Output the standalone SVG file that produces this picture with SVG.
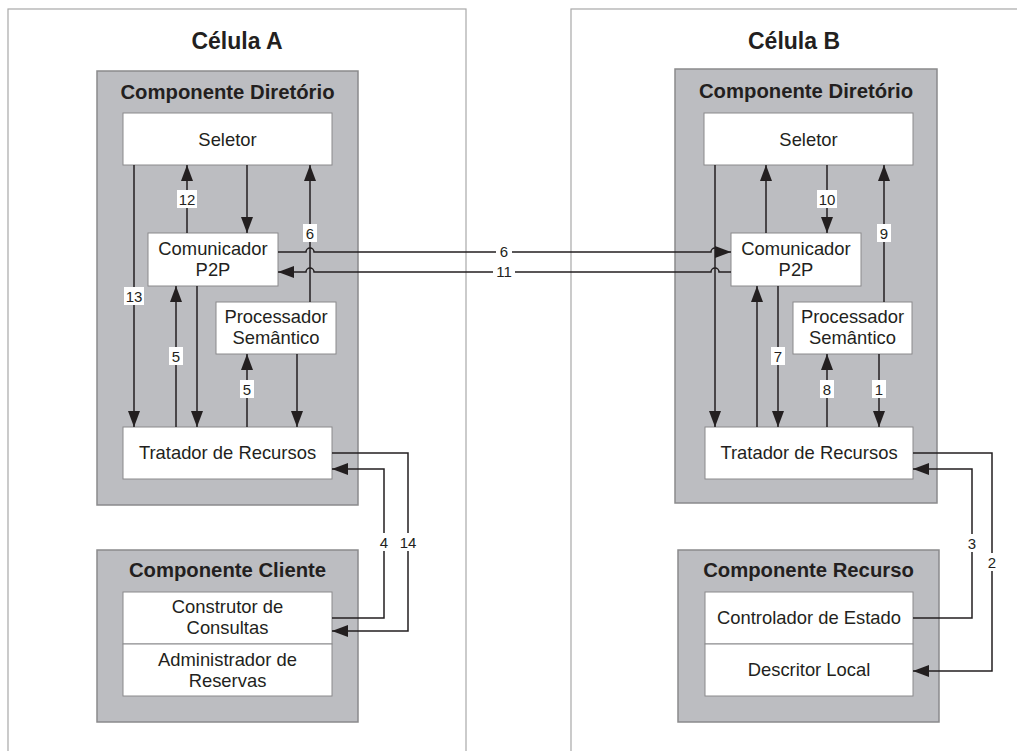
<svg xmlns="http://www.w3.org/2000/svg" width="1017" height="751" viewBox="0 0 1017 751">
<style>
.cell{fill:#fff;stroke:#a8a8a8;stroke-width:1.2}
.comp{fill:#bcbdc1;stroke:#8a8a8c;stroke-width:1.5}
.node{fill:#fff;stroke:#8a8a8c;stroke-width:1}
.ctitle{font-family:"Liberation Sans",Arial,sans-serif;font-weight:bold;font-size:23px;fill:#231f20;text-anchor:middle}
.ptitle{font-family:"Liberation Sans",Arial,sans-serif;font-weight:bold;font-size:20.3px;fill:#231f20;text-anchor:middle}
.t{font-family:"Liberation Sans",Arial,sans-serif;font-size:18.4px;fill:#231f20;text-anchor:middle}
.lbl{font-family:"Liberation Sans",Arial,sans-serif;font-size:15px;fill:#231f20;text-anchor:middle}
.lb{fill:#fff}
.c{fill:none;stroke:#231f20;stroke-width:1.5}
</style>
<defs>
<marker id="ah" viewBox="0 0 16 12" refX="16" refY="6" markerWidth="16" markerHeight="12" markerUnits="userSpaceOnUse" orient="auto">
<path d="M0,0 L16,6 L0,12 z" fill="#231f20"/>
</marker>
</defs>
<rect width="1017" height="751" fill="#fff"/>
<g id="celula-a">
<rect class="cell" x="8" y="9" width="458" height="750"/>
<text class="ctitle" x="237" y="49">Célula A</text>
</g>
<g id="celula-b">
<rect class="cell" x="571" y="9" width="460" height="750"/>
<text class="ctitle" x="794" y="49">Célula B</text>
</g>
<g id="dir-a">
<rect class="comp" x="97" y="71" width="261" height="434"/>
<text class="ptitle" x="227.5" y="99">Componente Diretório</text>
</g>
<g id="dir-b">
<rect class="comp" x="675" y="69" width="262" height="434"/>
<text class="ptitle" x="806" y="98">Componente Diretório</text>
</g>
<g id="cliente-a">
<rect class="comp" x="97" y="550" width="261" height="172"/>
<text class="ptitle" x="227.5" y="577">Componente Cliente</text>
</g>
<g id="recurso-b">
<rect class="comp" x="678" y="550" width="261" height="172"/>
<text class="ptitle" x="808.5" y="577">Componente Recurso</text>
</g>
<g id="seletor-a"><rect class="node" x="123" y="113" width="209" height="52"/><text class="t" x="227.5" y="146">Seletor</text></g>
<g id="comunicador-a"><rect class="node" x="148" y="233" width="130" height="53"/><text class="t" x="213" y="255">Comunicador</text><text class="t" x="213" y="276">P2P</text></g>
<g id="processador-a"><rect class="node" x="216" y="302" width="120" height="52"/><text class="t" x="276" y="323">Processador</text><text class="t" x="276" y="344">Semântico</text></g>
<g id="tratador-a"><rect class="node" x="123" y="427" width="209" height="52"/><text class="t" x="227.5" y="459">Tratador de Recursos</text></g>
<g id="construtor-a"><rect class="node" x="123" y="592" width="209" height="52"/><text class="t" x="227.5" y="613">Construtor de</text><text class="t" x="227.5" y="634">Consultas</text></g>
<g id="administrador-a"><rect class="node" x="123" y="644" width="209" height="52"/><text class="t" x="227.5" y="666">Administrador de</text><text class="t" x="227.5" y="687">Reservas</text></g>
<g id="seletor-b"><rect class="node" x="704" y="113" width="209" height="52"/><text class="t" x="808.5" y="146">Seletor</text></g>
<g id="comunicador-b"><rect class="node" x="731" y="233" width="130" height="53"/><text class="t" x="796" y="255">Comunicador</text><text class="t" x="796" y="276">P2P</text></g>
<g id="processador-b"><rect class="node" x="793" y="302" width="119" height="52"/><text class="t" x="852.5" y="323">Processador</text><text class="t" x="852.5" y="344">Semântico</text></g>
<g id="tratador-b"><rect class="node" x="705" y="427" width="208" height="52"/><text class="t" x="809" y="459">Tratador de Recursos</text></g>
<g id="controlador-b"><rect class="node" x="705" y="592" width="208" height="52"/><text class="t" x="809" y="624">Controlador de Estado</text></g>
<g id="descritor-b"><rect class="node" x="705" y="644" width="208" height="52"/><text class="t" x="809" y="676">Descritor Local</text></g>
<g id="connectors">
<path class="c" d="M134,165 V427" marker-end="url(#ah)"/>
<path class="c" d="M187,233 V165" marker-end="url(#ah)"/>
<path class="c" d="M247,165 V233" marker-end="url(#ah)"/>
<path class="c" d="M310,302 V165" marker-end="url(#ah)"/>
<path class="c" d="M176,427 V286" marker-end="url(#ah)"/>
<path class="c" d="M197,286 V427" marker-end="url(#ah)"/>
<path class="c" d="M247,427 V354" marker-end="url(#ah)"/>
<path class="c" d="M297,354 V427" marker-end="url(#ah)"/>
<path class="c" d="M332,453 H408 V631 H332" marker-end="url(#ah)"/>
<path class="c" d="M332,618 H384 V469 H332" marker-end="url(#ah)"/>
<path class="c" d="M278,252 H306 a4,4 0 0 1 8,0 H711 a4,4 0 0 1 8,0 H731" marker-end="url(#ah)"/>
<path class="c" d="M731,272 H719 a4,4 0 0 0 -8,0 H314 a4,4 0 0 0 -8,0 H278" marker-end="url(#ah)"/>
<path class="c" d="M715,165 V427" marker-end="url(#ah)"/>
<path class="c" d="M766,233 V165" marker-end="url(#ah)"/>
<path class="c" d="M827,165 V233" marker-end="url(#ah)"/>
<path class="c" d="M884,302 V165" marker-end="url(#ah)"/>
<path class="c" d="M757,427 V286" marker-end="url(#ah)"/>
<path class="c" d="M778,286 V427" marker-end="url(#ah)"/>
<path class="c" d="M827,427 V354" marker-end="url(#ah)"/>
<path class="c" d="M879,354 V427" marker-end="url(#ah)"/>
<path class="c" d="M913,453 H992 V671 H913" marker-end="url(#ah)"/>
<path class="c" d="M913,618 H972 V469 H913" marker-end="url(#ah)"/>
<rect class="lb" x="177" y="190" width="20" height="18"/><text class="lbl" x="187" y="205">12</text>
<rect class="lb" x="303" y="224" width="14" height="18"/><text class="lbl" x="310" y="239">6</text>
<rect class="lb" x="124" y="287" width="20" height="18"/><text class="lbl" x="134" y="302">13</text>
<rect class="lb" x="169" y="347" width="14" height="18"/><text class="lbl" x="176" y="362">5</text>
<rect class="lb" x="240" y="380" width="14" height="18"/><text class="lbl" x="247" y="395">5</text>
<rect class="lb" x="377" y="533" width="14" height="18"/><text class="lbl" x="384" y="548">4</text>
<rect class="lb" x="398" y="533" width="20" height="18"/><text class="lbl" x="408" y="548">14</text>
<rect class="lb" x="496" y="244" width="16" height="16"/><text class="lbl" x="504" y="257">6</text>
<rect class="lb" x="493" y="264" width="22" height="16"/><text class="lbl" x="504" y="277">11</text>
<rect class="lb" x="817" y="190" width="20" height="18"/><text class="lbl" x="827" y="205">10</text>
<rect class="lb" x="877" y="224" width="14" height="18"/><text class="lbl" x="884" y="239">9</text>
<rect class="lb" x="771" y="347" width="14" height="18"/><text class="lbl" x="778" y="362">7</text>
<rect class="lb" x="820" y="380" width="14" height="18"/><text class="lbl" x="827" y="395">8</text>
<rect class="lb" x="872" y="380" width="14" height="18"/><text class="lbl" x="879" y="395">1</text>
<rect class="lb" x="965" y="534" width="14" height="18"/><text class="lbl" x="972" y="549">3</text>
<rect class="lb" x="985" y="553" width="14" height="18"/><text class="lbl" x="992" y="568">2</text>
</g>
</svg>
